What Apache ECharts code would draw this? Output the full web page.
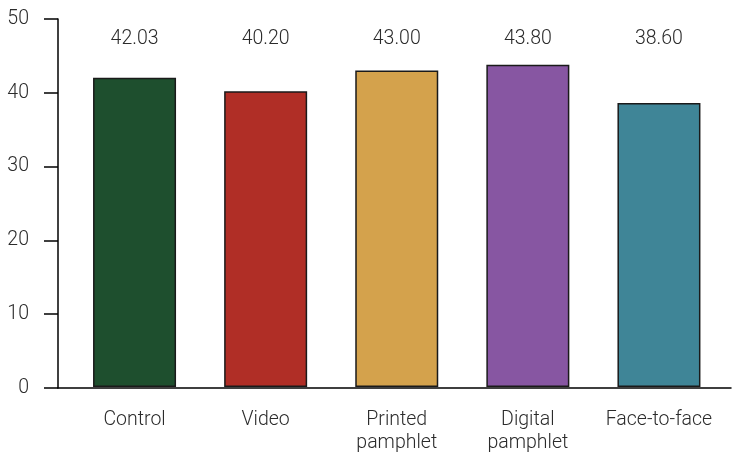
<!DOCTYPE html>
<html>
<head>
<meta charset="utf-8">
<script src="https://cdn.jsdelivr.net/npm/echarts@6/dist/echarts.min.js"></script>
<style>
  html, body { margin: 0; padding: 0; background: #fff; }
  #chart { width: 737px; height: 455px; }
</style>
</head>
<body>
<div id="chart"></div>
<script>
const categories = ["Control", "Video", "Printed\npamphlet", "Digital\npamphlet", "Face-to-face"];
const values = [42.03, 40.2, 43.0, 43.8, 38.6];
const colors = ["#1e4f2e", "#b02e26", "#d4a24c", "#8756a2", "#3f8597"];
const yTicks = [0, 10, 20, 30, 40, 50];
const labelLevel = 47.2; // where the value labels sit, in axis units

const textColor = "#2b2b2b";
const font = "Roboto";
const fontSize = 19.5;

let myChart = echarts.init(document.querySelector("#chart"));
option = {
    animation: false,
    grid: [
        { left: 69, right: 12.5, top: 19, bottom: 67 },
        { left: 58, right: 6, top: 19, bottom: 67 },
    ],
    xAxis: [
        {
            type: "category",
            gridIndex: 0,
            data: categories,
            axisLine: { show: false },
            axisTick: { show: false },
            axisLabel: {
                color: textColor,
                fontFamily: font,
                fontWeight: 300,
                fontSize: fontSize,
                lineHeight: 23,
                margin: 22,
                interval: 0,
            },
        },
        {
            type: "value",
            gridIndex: 1,
            min: 0,
            max: 1,
            axisLine: { show: true, lineStyle: { color: "#000", width: 1.5 } },
            axisTick: { show: false },
            axisLabel: { show: false },
            splitLine: { show: false },
        },
    ],
    yAxis: [
        {
            type: "value",
            gridIndex: 0,
            min: 0,
            max: 50,
            show: false,
        },
        {
            type: "value",
            gridIndex: 1,
            min: 0,
            max: 50,
            interval: 10,
            axisLine: { show: true, lineStyle: { color: "#000", width: 1.5 } },
            axisTick: { show: true, length: 14, lineStyle: { color: "#000", width: 1.5 } },
            axisLabel: {
                color: textColor,
                fontFamily: font,
                fontWeight: 300,
                fontSize: fontSize,
                margin: 29,
                formatter: function (v) {
                    return yTicks.indexOf(v) >= 0 ? String(v) : "";
                },
            },
            splitLine: { show: false },
        },
    ],
    series: [
        {
            type: "bar",
            xAxisIndex: 0,
            yAxisIndex: 0,
            barWidth: 83,
            data: values.map(function (v, i) {
                return {
                    value: v,
                    itemStyle: { color: colors[i], borderColor: "#1a1a1a", borderWidth: 1.5 },
                };
            }),
        },
        {
            type: "scatter",
            xAxisIndex: 0,
            yAxisIndex: 0,
            symbolSize: 1,
            itemStyle: { color: "transparent", opacity: 1 },
            silent: true,
            data: values.map(function (v, i) {
                return [i, labelLevel, v];
            }),
            label: {
                show: true,
                position: "inside",
                color: textColor,
                fontFamily: font,
                fontWeight: 300,
                fontSize: fontSize,
                formatter: function (p) {
                    return p.data[2].toFixed(2);
                },
            },
        },
    ],
};
myChart.setOption(option);
window.addEventListener("resize", function () {
    myChart.resize();
});
</script>
</body>
</html>
